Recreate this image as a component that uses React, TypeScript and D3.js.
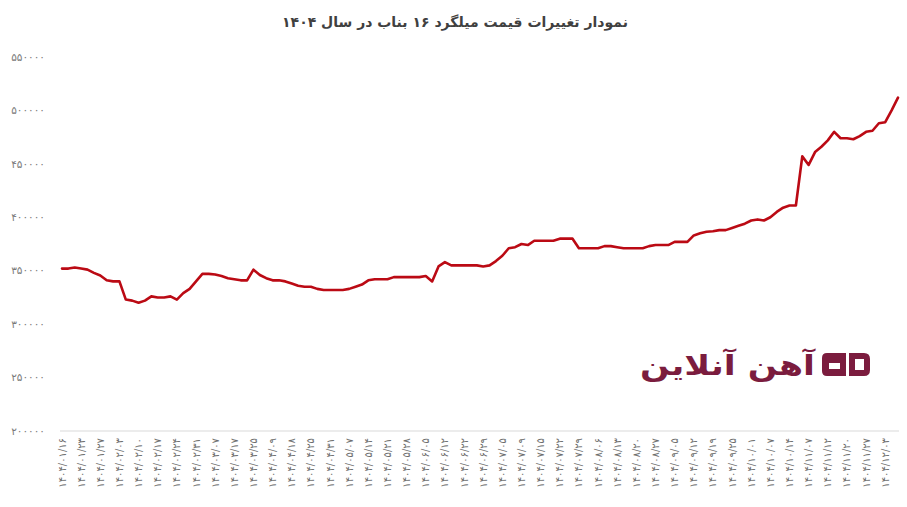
import React from 'react';
import * as d3 from 'd3';

const TITLE = 'نمودار تغییرات قیمت میلگرد ۱۶ بناب در سال ۱۴۰۴';
const LOGO_TEXT = 'آهن آنلاین';

const dateLabels = [
  '1404/01/16', '1404/01/23', '1404/01/27', '1404/02/03', '1404/02/10', '1404/02/17', '1404/02/24',
  '1404/02/31', '1404/03/07', '1404/03/17', '1404/03/25', '1404/04/09', '1404/04/18', '1404/04/25',
  '1404/04/31', '1404/05/07', '1404/05/14', '1404/05/21', '1404/05/28', '1404/06/05', '1404/06/12',
  '1404/06/22', '1404/06/29', '1404/07/05', '1404/07/09', '1404/07/15', '1404/07/22', '1404/07/29',
  '1404/08/06', '1404/08/13', '1404/08/20', '1404/08/27', '1404/09/05', '1404/09/12', '1404/09/19',
  '1404/09/25', '1404/10/01', '1404/10/07', '1404/10/14', '1404/11/07', '1404/11/12', '1404/11/20',
  '1404/11/27', '1404/12/03',
];

const LABEL_EVERY = 3;

const prices = [
  352000, 352000, 353000, 352000, 351000, 348000, 345500, 341000, 340000, 340000,
  323000, 322000, 320000, 322000, 326000, 325000, 325000, 326000, 323000, 329000,
  333000, 340000, 347000, 347000, 346500, 345000, 343000, 342000, 341000, 341000,
  351000, 346000, 343000, 341000, 341000, 340000, 338000, 336000, 335000, 335000,
  333000, 332000, 332000, 332000, 332000, 333000, 335000, 337000, 341000, 342000,
  342000, 342000, 344000, 344000, 344000, 344000, 344000, 345000, 340000, 354000,
  358000, 355000, 355000, 355000, 355000, 355000, 354000, 355000, 359000, 364000,
  371000, 372000, 375000, 374000, 378000, 378000, 378000, 378000, 380000, 380000,
  380000, 371000, 371000, 371000, 371000, 373000, 373000, 372000, 371000, 371000,
  371000, 371000, 373000, 374000, 374000, 374000, 377000, 377000, 377000, 383000,
  385000, 386500, 387000, 388000, 388000, 390000, 392000, 394000, 397000, 398000,
  397000, 400000, 405000, 409000, 411000, 411000, 457000, 449000, 461000, 466000,
  472000, 480000, 474000, 474000, 473000, 476000, 480000, 481000, 488000, 489000,
  500000, 512000,
];

const yTicks = [200000, 250000, 300000, 350000, 400000, 450000, 500000, 550000];

const FA_DIGITS = '۰۱۲۳۴۵۶۷۸۹';
const toFa = (s: string) => s.replace(/[0-9]/g, (d) => FA_DIGITS[+d]);

const W = 907;
const H = 507;

export default function App() {
  const x = d3.scaleLinear().domain([0, prices.length - 1]).range([62, 898]);
  const y = d3.scaleLinear().domain([200000, 550000]).range([431, 57]);
  const line = d3
    .line<number>()
    .x((_, i) => x(i))
    .y((d) => y(d));

  const font = '"DejaVu Sans", sans-serif';

  return (
    <svg
      width={W}
      height={H}
      style={{ position: 'absolute', left: 0, top: 0, background: '#fff' }}
      fontFamily={font}
    >
      <rect width={W} height={H} fill="#fff" />
      <text x={455} y={27} textAnchor="middle" fontSize={14} fontWeight="bold" fill="#404040">
        {TITLE}
      </text>

      {yTicks.map((t) => (
        <text key={t} x={45} y={y(t)} dy="0.35em" textAnchor="end" fontSize={10.5} fill="#7a7a7a">
          {toFa(String(t))}
        </text>
      ))}

      <line x1={60} x2={899} y1={y(200000)} y2={y(200000)} stroke="#d9d9d9" strokeWidth={1} />

      {dateLabels.map((d, j) => (
        <text
          key={d + j}
          transform={`translate(${x(j * LABEL_EVERY)},438) rotate(-90)`}
          textAnchor="end"
          dy="0.35em"
          fontSize={10}
          fill="#6e6e6e"
        >
          {toFa(d)}
        </text>
      ))}

      <path
        d={line(prices) || ''}
        fill="none"
        stroke="#bb0a14"
        strokeWidth={2.6}
        strokeLinejoin="round"
        strokeLinecap="round"
      />

      <g fill="#7b1c3e">
        <text
          x={640}
          y={375}
          fontSize={28}
          fontWeight="bold"
          textLength={175}
          lengthAdjust="spacingAndGlyphs"
        >
          {LOGO_TEXT}
        </text>
        <path
          fillRule="evenodd"
          d="M827,353 H846 V376 H827 Q822,376 822,371 V358 Q822,353 827,353 Z M829,363 H840 V369 H829 Z"
        />
        <path
          fillRule="evenodd"
          d="M849,353 H864 Q870,353 870,359 V370 Q870,376 864,376 H849 Z M855,359 H864 V370 H855 Z"
        />
      </g>
    </svg>
  );
}
